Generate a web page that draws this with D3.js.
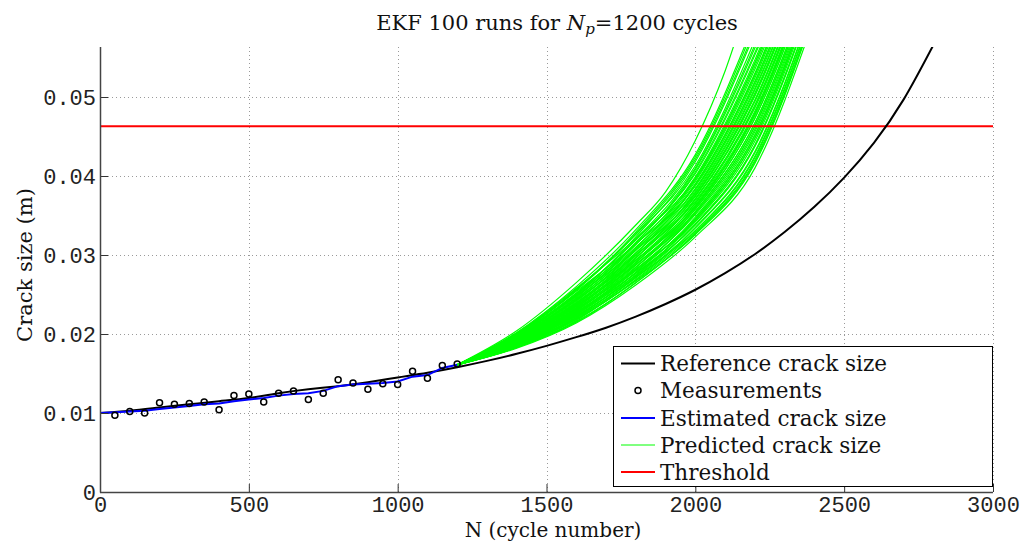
<!DOCTYPE html>
<html><head><meta charset="utf-8">
<script src="https://cdn.jsdelivr.net/npm/d3@7"></script>
<style>body{margin:0;background:#fff}</style></head>
<body>
<svg id="c" width="1028" height="545"></svg>
<script>
// ---- data ----
const xTicks = [0, 500, 1000, 1500, 2000, 2500, 3000];
const yTicks = [0, 0.01, 0.02, 0.03, 0.04, 0.05];
const threshold = 0.0463;

const refN = [0,100,200,300,400,500,600,700,800,900,1000,1100,1200,1300,1400,1500,1600,1700,1800,1900,2000,2100,2200,2300,2400,2500,2600,2700,2800];
const refA = [0.0100,0.0103,0.0107,0.0111,0.0115,0.0119,0.0125,0.0130,0.0134,0.0139,0.0145,0.0151,0.0158,0.0166,0.0175,0.0185,0.0196,0.0208,0.0222,0.0238,0.0256,0.0277,0.0301,0.0329,0.0361,0.0398,0.0442,0.0497,0.0566];

const measN = [50,100,150,200,250,300,350,400,450,500,550,600,650,700,750,800,850,900,950,1000,1050,1100,1150,1200];
const measA = [0.0097,0.0102,0.0100,0.0113,0.0111,0.0112,0.0114,0.0104,0.0122,0.0124,0.0114,0.0125,0.0128,0.0117,0.0125,0.0142,0.0138,0.0130,0.0137,0.0136,0.0153,0.0144,0.0160,0.0162];

const estN = [0,50,100,150,200,250,300,350,400,450,500,550,600,650,700,750,800,850,900,950,1000,1050,1100,1150,1200];
const estA = [0.0100,0.0101,0.0102,0.0103,0.0105,0.0107,0.0109,0.0111,0.0112,0.0115,0.0117,0.0119,0.0122,0.0124,0.0125,0.0128,0.0134,0.0136,0.0137,0.0138,0.0140,0.0146,0.0148,0.0157,0.0161];

const predN = [1200,1400,1600,1800,2000,2200,2400];
const predRuns = [
 [0.0161,0.0202,0.0260,0.0332,0.0427,0.0596,0.0796],
 [0.0161,0.0201,0.0258,0.0321,0.0397,0.0543,0.0740],
 [0.0161,0.0201,0.0257,0.0326,0.0413,0.0572,0.0770],
 [0.0161,0.0200,0.0256,0.0329,0.0424,0.0591,0.0790],
 [0.0161,0.0200,0.0255,0.0327,0.0421,0.0585,0.0784],
 [0.0161,0.0199,0.0254,0.0314,0.0387,0.0524,0.0720],
 [0.0161,0.0199,0.0252,0.0319,0.0403,0.0553,0.0750],
 [0.0161,0.0198,0.0251,0.0320,0.0410,0.0566,0.0764],
 [0.0161,0.0198,0.0250,0.0323,0.0418,0.0581,0.0780],
 [0.0161,0.0198,0.0250,0.0314,0.0395,0.0539,0.0736],
 [0.0161,0.0197,0.0249,0.0316,0.0405,0.0556,0.0754],
 [0.0161,0.0197,0.0248,0.0306,0.0376,0.0505,0.0700],
 [0.0161,0.0197,0.0248,0.0310,0.0389,0.0528,0.0724],
 [0.0161,0.0196,0.0247,0.0313,0.0399,0.0547,0.0744],
 [0.0161,0.0196,0.0246,0.0315,0.0408,0.0562,0.0760],
 [0.0161,0.0196,0.0245,0.0307,0.0384,0.0520,0.0716],
 [0.0161,0.0195,0.0244,0.0309,0.0393,0.0535,0.0732],
 [0.0161,0.0195,0.0243,0.0300,0.0368,0.0490,0.0684],
 [0.0161,0.0195,0.0243,0.0303,0.0378,0.0509,0.0704],
 [0.0161,0.0194,0.0242,0.0306,0.0390,0.0530,0.0726],
 [0.0161,0.0194,0.0241,0.0308,0.0397,0.0543,0.0740],
 [0.0161,0.0194,0.0240,0.0300,0.0374,0.0501,0.0696],
 [0.0161,0.0193,0.0239,0.0302,0.0383,0.0518,0.0714],
 [0.0161,0.0193,0.0239,0.0294,0.0360,0.0477,0.0670],
 [0.0161,0.0193,0.0238,0.0297,0.0371,0.0496,0.0690],
 [0.0161,0.0192,0.0237,0.0299,0.0379,0.0511,0.0706],
 [0.0161,0.0192,0.0237,0.0302,0.0389,0.0528,0.0724],
 [0.0161,0.0192,0.0236,0.0293,0.0365,0.0486,0.0680],
 [0.0161,0.0191,0.0235,0.0296,0.0375,0.0503,0.0698],
 [0.0161,0.0191,0.0235,0.0288,0.0353,0.0463,0.0656],
 [0.0161,0.0191,0.0234,0.0291,0.0362,0.0480,0.0674],
 [0.0161,0.0190,0.0233,0.0293,0.0370,0.0494,0.0688],
 [0.0161,0.0190,0.0233,0.0296,0.0381,0.0515,0.0710],
 [0.0161,0.0190,0.0232,0.0288,0.0358,0.0473,0.0666],
 [0.0161,0.0190,0.0231,0.0290,0.0366,0.0488,0.0682],
 [0.0161,0.0189,0.0231,0.0282,0.0344,0.0448,0.0640],
 [0.0161,0.0189,0.0230,0.0285,0.0355,0.0467,0.0660],
 [0.0161,0.0189,0.0229,0.0287,0.0361,0.0478,0.0672],
 [0.0161,0.0189,0.0229,0.0290,0.0371,0.0496,0.0690],
 [0.0161,0.0188,0.0228,0.0282,0.0351,0.0459,0.0652],
 [0.0161,0.0188,0.0227,0.0284,0.0358,0.0473,0.0666],
 [0.0161,0.0188,0.0227,0.0277,0.0338,0.0437,0.0628],
 [0.0161,0.0187,0.0226,0.0280,0.0346,0.0452,0.0644],
 [0.0161,0.0187,0.0226,0.0281,0.0353,0.0463,0.0656],
 [0.0161,0.0187,0.0225,0.0284,0.0363,0.0482,0.0676],
 [0.0161,0.0187,0.0225,0.0277,0.0342,0.0444,0.0636],
 [0.0161,0.0186,0.0224,0.0278,0.0348,0.0456,0.0648],
 [0.0161,0.0186,0.0223,0.0272,0.0331,0.0425,0.0616],
 [0.0161,0.0186,0.0223,0.0274,0.0339,0.0439,0.0630],
 [0.0161,0.0185,0.0222,0.0275,0.0344,0.0448,0.0640],
 [0.0161,0.0185,0.0221,0.0278,0.0355,0.0467,0.0660],
 [0.0161,0.0185,0.0221,0.0271,0.0335,0.0431,0.0622],
 [0.0161,0.0185,0.0220,0.0272,0.0339,0.0439,0.0630],
 [0.0161,0.0184,0.0219,0.0267,0.0326,0.0416,0.0606],
 [0.0161,0.0184,0.0219,0.0268,0.0330,0.0423,0.0614],
 [0.0161,0.0184,0.0218,0.0269,0.0334,0.0429,0.0620],
 [0.0161,0.0183,0.0217,0.0273,0.0346,0.0452,0.0644],
 [0.0161,0.0183,0.0216,0.0265,0.0327,0.0418,0.0608],
 [0.0161,0.0183,0.0215,0.0265,0.0328,0.0420,0.0610],
 [0.0161,0.0182,0.0214,0.0262,0.0323,0.0410,0.0600]
];
const outlierN = [1200,1400,1600,1800,1900,2000,2100,2200];
const outlierA = [0.0161,0.0204,0.0265,0.0338,0.0380,0.0445,0.0533,0.0650];

const legendLabels = ["Reference crack size","Measurements","Estimated crack size","Predicted crack size","Threshold"];
const legendColors = ["#000000","#000000","#0000ff","#00ff00","#ff0000"];

// ---- chart ----
const svg = d3.select("#c");
const L = 100, R = 993, T = 47, B = 492;
const x = d3.scaleLinear().domain([0, 3000]).range([L, R]);
const y = d3.scaleLinear().domain([0, (B - T) / 7900]).range([B, T]);

svg.append("defs").append("clipPath").attr("id","clip")
  .append("rect").attr("x", L).attr("y", T).attr("width", R - L).attr("height", B - T);

// grid
const grid = svg.append("g").attr("stroke","#9a9a9a").attr("stroke-width",1).attr("stroke-dasharray","1,3");
grid.selectAll("line.v").data(xTicks.filter(d => d > 0)).join("line")
  .attr("x1", d => Math.round(x(d)) + 0.5).attr("x2", d => Math.round(x(d)) + 0.5)
  .attr("y1", T).attr("y2", B);
grid.selectAll("line.h").data(yTicks.filter(d => d > 0)).join("line")
  .attr("y1", d => Math.round(y(d)) + 0.5).attr("y2", d => Math.round(y(d)) + 0.5)
  .attr("x1", L).attr("x2", R);

const plot = svg.append("g").attr("clip-path","url(#clip)");
const line = d3.line().x(d => x(d[0])).y(d => y(d[1])).curve(d3.curveMonotoneX);
const smooth = d3.line().x(d => x(d[0])).y(d => y(d[1])).curve(d3.curveNatural);

// predicted
plot.append("g").selectAll("path").data(predRuns).join("path")
  .attr("d", run => line(run.map((v, i) => [predN[i], v])))
  .attr("fill","none").attr("stroke","#00ff00").attr("stroke-width",1.2);
plot.append("path").attr("d", line(outlierA.map((v, i) => [outlierN[i], v])))
  .attr("fill","none").attr("stroke","#00ff00").attr("stroke-width",1.2);

// threshold
plot.append("line").attr("x1", L).attr("x2", R).attr("y1", y(threshold)).attr("y2", y(threshold))
  .attr("stroke","#ff0000").attr("stroke-width",2);

// reference
plot.append("path").attr("d", smooth(refA.map((v, i) => [refN[i], v])))
  .attr("fill","none").attr("stroke","#000").attr("stroke-width",2);

// estimated
plot.append("path").attr("d", d3.line().x(d => x(d[0])).y(d => y(d[1]))(estA.map((v, i) => [estN[i], v])))
  .attr("fill","none").attr("stroke","#0000ff").attr("stroke-width",2);

// measurements
plot.append("g").selectAll("circle").data(measN).join("circle")
  .attr("cx", (d) => x(d)).attr("cy", (d, i) => y(measA[i])).attr("r", 3)
  .attr("fill","none").attr("stroke","#000").attr("stroke-width",1.5);

// axes
const tickFont = "'Liberation Mono', 'Courier New', monospace";
const xAxis = svg.append("g").attr("transform", `translate(0,${B})`)
  .call(d3.axisBottom(x).tickValues(xTicks).tickSize(-8).tickPadding(4).tickFormat(d3.format("d")));
const yAxis = svg.append("g").attr("transform", `translate(${L},0)`)
  .call(d3.axisLeft(y).tickValues(yTicks).tickSize(-8).tickPadding(4).tickFormat(d => d === 0 ? "0" : d3.format(".2f")(d)));
[xAxis, yAxis].forEach(g => {
  g.select(".domain").remove();
  g.selectAll(".tick line").attr("stroke","#333");
  g.selectAll(".tick text").attr("font-family", tickFont).attr("font-size", 22).attr("fill","#222");
});
svg.append("line").attr("x1", L + 0.5).attr("x2", L + 0.5).attr("y1", T).attr("y2", B + 0.5).attr("stroke","#444").attr("stroke-width",1.5);
svg.append("line").attr("x1", L).attr("x2", R).attr("y1", B + 0.5).attr("y2", B + 0.5).attr("stroke","#444").attr("stroke-width",1.5);

// labels
const serif = "'DejaVu Serif', serif";
const title = svg.append("text").attr("x", 557).attr("y", 30).attr("text-anchor","middle")
  .attr("font-family", serif).attr("font-size", 21).attr("fill","#111");
title.append("tspan").text("EKF 100 runs for ");
title.append("tspan").attr("font-style","italic").text("N");
title.append("tspan").attr("font-style","italic").attr("font-size", 15).attr("dy", 4).text("p");
title.append("tspan").attr("dy", -4).text("=1200 cycles");

svg.append("text").attr("x", 553).attr("y", 537).attr("text-anchor","middle")
  .attr("font-family", serif).attr("font-size", 20).attr("fill","#111").text("N (cycle number)");
svg.append("text").attr("transform","translate(32,265) rotate(-90)").attr("text-anchor","middle")
  .attr("font-family", serif).attr("font-size", 21).attr("fill","#111").text("Crack size (m)");

// legend
const lg = svg.append("g");
lg.append("rect").attr("x", 613.5).attr("y", 346.5).attr("width", 379).attr("height", 140)
  .attr("fill","#fff").attr("stroke","#000").attr("stroke-width",1);
const rowY = [363.5, 390.5, 418, 445, 472];
legendLabels.forEach((lab, i) => {
  if (i === 1) {
    lg.append("circle").attr("cx", 638).attr("cy", rowY[i]).attr("r", 3)
      .attr("fill","none").attr("stroke","#000").attr("stroke-width",1.5);
  } else {
    lg.append("line").attr("x1", 621).attr("x2", 655).attr("y1", rowY[i]).attr("y2", rowY[i])
      .attr("stroke", legendColors[i]).attr("stroke-width", i === 3 ? 1 : 2);
  }
  lg.append("text").attr("x", 660).attr("y", rowY[i] + 7.5)
    .attr("font-family", serif).attr("font-size", 21.5).attr("fill","#111").text(lab);
});
</script>
</body></html>
